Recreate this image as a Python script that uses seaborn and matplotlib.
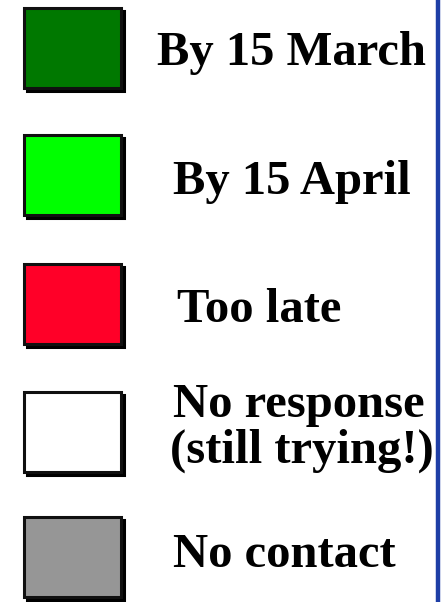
import matplotlib
matplotlib.use("Agg")
import matplotlib.pyplot as plt
from matplotlib.patches import Rectangle
import seaborn as sns

# legend entries
labels = [["By 15 March"], ["By 15 April"], ["Too late"],
          ["No response", "(still trying!)"], ["No contact"]]
colors = ["#007800", "#00ff00", "#ff0028", "#ffffff", "#969696"]

# layout (pixels, y downwards)
W, H = 441, 602
box_x, box_w, box_h = 24, 97, 80
box_top = [8, 135, 264, 392, 517]
text_x = [[157], [173], [177], [173, 170], [173]]
text_base = [[65], [194], [322], [417, 463], [567]]

sns.set_theme(style="white")
plt.rcParams["font.family"] = ["Liberation Serif", "DejaVu Serif"]

fig = plt.figure(figsize=(W / 100, H / 100), dpi=100)
ax = fig.add_axes([0, 0, 1, 1])
ax.set_xlim(0, W)
ax.set_ylim(H, 0)
ax.axis("off")

for i, (lab, col) in enumerate(zip(labels, colors)):
    top = box_top[i]
    # drop shadow
    ax.add_patch(Rectangle((box_x + 3, top + 3), box_w, box_h,
                           facecolor="black", edgecolor="black", linewidth=2.2))
    ax.add_patch(Rectangle((box_x, top), box_w, box_h, facecolor=col,
                           edgecolor="#101010", linewidth=2.2))
    for line, x, y in zip(lab, text_x[i], text_base[i]):
        ax.text(x, y, line, fontsize=35, fontweight="bold", color="black",
                ha="left", va="baseline")

# blue frame edge on the right
ax.axvline(437.5, color="#1e3ea6", linewidth=3.2)

fig.savefig("out.png", dpi=100, facecolor="white")
